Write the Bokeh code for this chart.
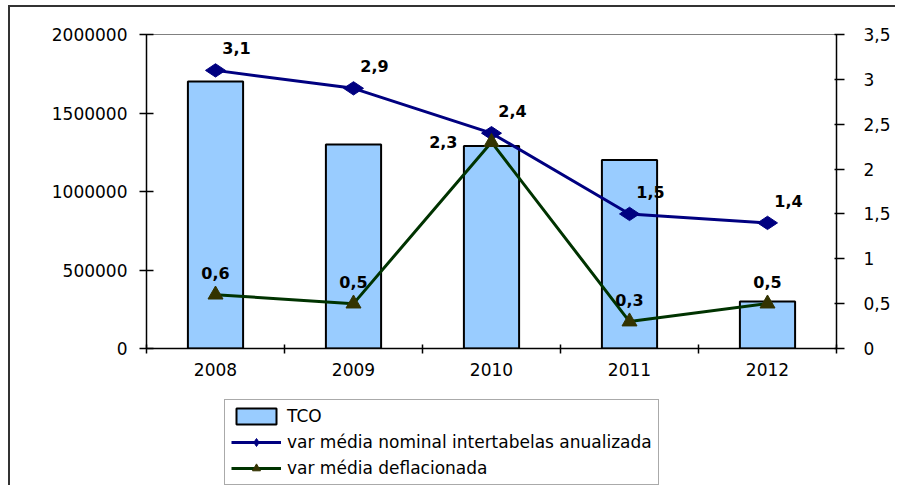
from bokeh.plotting import figure
from bokeh.layouts import column
from bokeh.models import (Range1d, LinearAxis, FixedTicker, NumeralTickFormatter,
                          CustomJSTickFormatter, ColumnDataSource, Legend, LegendItem)
from bokeh.core.properties import value
from bokeh.embed import file_html
from bokeh.resources import INLINE
import math

# ---- data ----
years = ["2008", "2009", "2010", "2011", "2012"]
tco = [1700000, 1300000, 1290000, 1200000, 300000]
var_nominal = [3.1, 2.9, 2.4, 1.5, 1.4]
var_deflacionada = [0.6, 0.5, 2.3, 0.3, 0.5]
left_ticks = [0, 500000, 1000000, 1500000, 2000000]
right_ticks = [0, 0.5, 1, 1.5, 2, 2.5, 3, 3.5]
series_names = ["TCO", "var média nominal intertabelas anualizada", "var média deflacionada"]

FONT = "DejaVu Sans"
BAR = dict(fill_color="#99CCFF", line_color="black", line_width=2)
NOM_LINE = dict(line_color="#000080", line_width=3)
NOM_MARK = dict(marker="diamond", size=20, angle=math.pi / 2, fill_color="#000080", line_color="#000080")
DFL_LINE = dict(line_color="#003300", line_width=3)
DFL_MARK = dict(marker="triangle", size=15, fill_color="#333300", line_color="#333300")

n = len(years)
xc = [i + 0.5 for i in range(n)]
bounds = [i for i in range(n + 1)]

def fmt(v):
    return f"{v:.1f}".replace(".", ",")

nom_lbl = [fmt(v) for v in var_nominal]
def_lbl = [fmt(v) for v in var_deflacionada]

# deflated labels: above the point unless they would collide with the nominal series
def_xoff, def_yoff, def_align = [], [], []
for a, b in zip(var_deflacionada, var_nominal):
    if abs(a - b) < 0.3:
        def_xoff.append(-34); def_yoff.append(0); def_align.append("right")
    else:
        def_xoff.append(0); def_yoff.append(-22); def_align.append("center")

src = ColumnDataSource(dict(x=xc, tco=tco, nom=var_nominal, dfl=var_deflacionada,
                            nom_lbl=nom_lbl, def_lbl=def_lbl,
                            def_xoff=def_xoff, def_yoff=def_yoff, def_align=def_align))

p = figure(width=887, height=390, output_backend="svg", toolbar_location=None,
           x_range=Range1d(0, n), y_range=Range1d(left_ticks[0], left_ticks[-1]),
           min_border_left=136, min_border_right=61, min_border_top=27, min_border_bottom=49)
p.styles = {"border-left": "2px solid #333333", "border-top": "2px solid #333333",
            "margin-left": "8px", "margin-top": "5px"}
p.extra_y_ranges = {"right": Range1d(right_ticks[0], right_ticks[-1])}

p.xgrid.visible = False
p.ygrid.visible = False
p.outline_line_color = "#808080"
p.outline_line_width = 1
p.background_fill_color = "white"
p.border_fill_color = "white"

# axes
xa = p.xaxis[0]
xa.ticker = FixedTicker(ticks=xc, minor_ticks=bounds)
xa.formatter = CustomJSTickFormatter(args=dict(labels=years),
                                     code="const i = Math.floor(tick); return (i >= 0 && i < labels.length) ? labels[i] : '';")
xa.major_tick_in = 0
xa.major_tick_out = 0
xa.minor_tick_in = 4
xa.minor_tick_out = 5
xa.minor_tick_line_color = "black"
xa.minor_tick_line_width = 1.5
xa.axis_line_color = "black"
xa.axis_line_width = 1.5
xa.major_label_standoff = 9
xa.major_label_text_font = FONT
xa.major_label_text_font_size = "17px"
xa.major_label_text_color = "black"

ya = p.yaxis[0]
ya.ticker = FixedTicker(ticks=left_ticks)
ya.formatter = NumeralTickFormatter(format="0")
ya.minor_tick_line_color = None
ya.major_tick_in = 7
ya.major_tick_out = 7
ya.major_tick_line_color = "black"
ya.major_tick_line_width = 1.5
ya.axis_line_color = "black"
ya.axis_line_width = 1.5
ya.major_label_standoff = 12
ya.major_label_text_font = FONT
ya.major_label_text_font_size = "17px"
ya.major_label_text_color = "black"

ra = LinearAxis(y_range_name="right", ticker=FixedTicker(ticks=right_ticks),
                formatter=CustomJSTickFormatter(code="return tick.toString().replace('.', ',');"))
ra.minor_tick_line_color = None
ra.major_tick_in = 2
ra.major_tick_out = 8
ra.major_tick_line_color = "black"
ra.major_tick_line_width = 1.5
ra.axis_line_color = "black"
ra.axis_line_width = 1.5
ra.major_label_standoff = 19
ra.major_label_text_font = FONT
ra.major_label_text_font_size = "17px"
ra.major_label_text_color = "black"
p.add_layout(ra, "right")

# bars
p.vbar(x="x", top="tco", width=0.4, bottom=0, source=src, **BAR)

# nominal line
p.line("x", "nom", source=src, y_range_name="right", **NOM_LINE)
p.scatter("x", "nom", source=src, y_range_name="right", **NOM_MARK)

# deflated line
p.line("x", "dfl", source=src, y_range_name="right", **DFL_LINE)
p.scatter("x", "dfl", source=src, y_range_name="right", **DFL_MARK)

# data labels
p.text("x", "nom", text="nom_lbl", source=src, y_range_name="right",
       x_offset=21, y_offset=-22, text_align="center", text_baseline="middle",
       text_font=value(FONT), text_font_style="bold", text_font_size="16px", text_color="black")
p.text("x", "dfl", text="def_lbl", source=src, y_range_name="right",
       x_offset="def_xoff", y_offset="def_yoff", text_align="def_align", text_baseline="middle",
       text_font=value(FONT), text_font_style="bold", text_font_size="16px", text_color="black")

# ---- legend in its own strip below the chart (frames are aligned by the column) ----
lf = figure(width=887, height=90, output_backend="svg", toolbar_location=None,
            x_range=Range1d(0, 1), y_range=Range1d(0, 1),
            x_axis_location=None, y_axis_location=None,
            min_border_left=0, min_border_right=0, min_border_top=0, min_border_bottom=0)
lf.styles = {"border-left": "2px solid #333333", "margin-left": "8px"}
lf.xgrid.visible = False
lf.ygrid.visible = False
lf.outline_line_color = None
lf.border_fill_color = "white"
# legend-only renderers: a single NaN point, so nothing is drawn but the legend has a glyph
blank = ColumnDataSource(dict(x=[float("nan")], y=[float("nan")]))
r_bar = lf.vbar(x="x", top="y", width=0.4, source=blank, **BAR)
r_nl = lf.line("x", "y", source=blank, **NOM_LINE)
r_nm = lf.scatter("x", "y", source=blank, **NOM_MARK)
r_dl = lf.line("x", "y", source=blank, **DFL_LINE)
r_dm = lf.scatter("x", "y", source=blank, **DFL_MARK)

legend = Legend(items=[
    LegendItem(label=series_names[0], renderers=[r_bar]),
    LegendItem(label=series_names[1], renderers=[r_nl, r_nm]),
    LegendItem(label=series_names[2], renderers=[r_dl, r_dm]),
], location=(78, 0))
legend.label_text_font = FONT
legend.label_text_font_size = "17px"
legend.label_text_color = "black"
legend.glyph_width = 50
legend.glyph_height = 20
legend.label_height = 20
legend.spacing = 6
legend.padding = 6
legend.margin = 0
legend.label_standoff = 6
legend.border_line_color = "#555555"
legend.border_line_width = 1
legend.background_fill_alpha = 1
lf.add_layout(legend, "center")

layout = column(p, lf, spacing=0)
open("out.html", "w").write(file_html(layout, INLINE))
